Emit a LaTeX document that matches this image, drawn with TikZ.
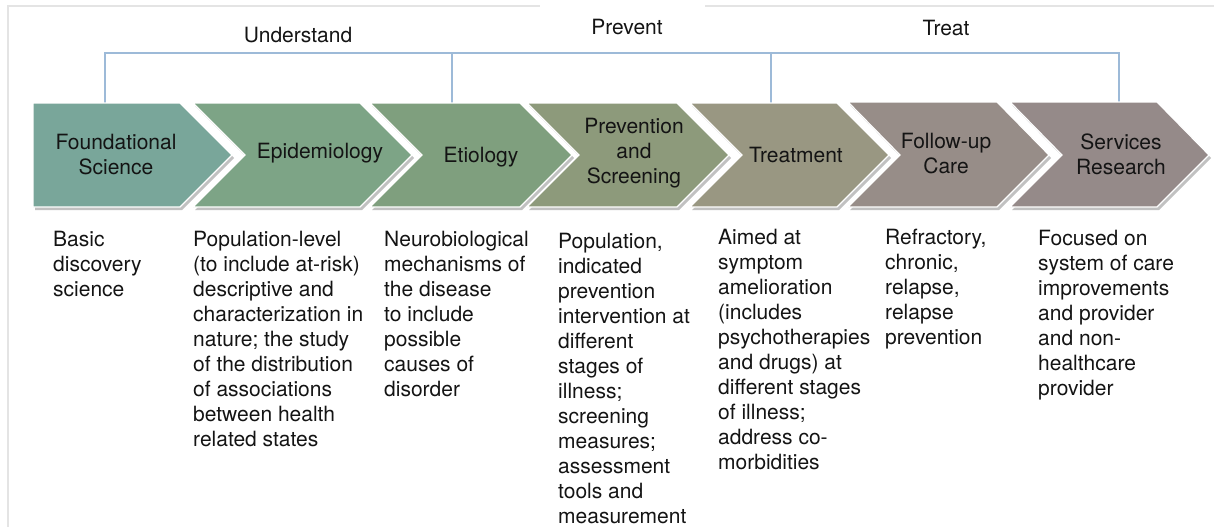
\documentclass[tikz,border=0pt]{standalone}
\usepackage{fontspec}
\setmainfont{TeX Gyre Heros}
\usetikzlibrary{shadows,calc}
\definecolor{cA}{HTML}{79A69A}
\definecolor{cB}{HTML}{7DA486}
\definecolor{cC}{HTML}{7F9F7E}
\definecolor{cD}{HTML}{8D9A7B}
\definecolor{cE}{HTML}{999782}
\definecolor{cF}{HTML}{978D88}
\definecolor{cG}{HTML}{958A89}
\definecolor{brcol}{HTML}{9DBAD8}
\definecolor{framecol}{HTML}{E4E4E4}
\tikzset{
  chevshape/.style={fill=#1, draw=white, line width=1.2pt,
    drop shadow={shadow xshift=2pt, shadow yshift=-3pt, opacity=0.35, fill=black!70}},
  lab/.style={align=center, inner sep=0pt, font=\fontsize{21}{25}\selectfont, text=black!92},
  desc/.style={align=left, anchor=north west, inner sep=0pt, font=\fontsize{21}{25}\selectfont, text=black!92},
  toplab/.style={inner sep=0pt, font=\fontsize{21}{25}\selectfont, text=black!92},
  bracket/.style={draw=brcol, line width=1.6pt},
  framel/.style={draw=framecol, line width=1.2pt}
}
\begin{document}
\begin{tikzpicture}[x=1pt,y=-1pt]
\useasboundingbox (0,0) rectangle (1214,527);
% faint frame
\draw[framel] (540,6) -- (8,6) -- (8,527);
\draw[framel] (705,6) -- (1214,6);
% bracket coordinates
\coordinate (t1) at (105,104);
\coordinate (t2) at (452,104);
\coordinate (t3) at (771,104);
\coordinate (t4) at (1119,104);
\coordinate (h1) at (105,53);
\coordinate (h4) at (1119,53);
\draw[bracket] (t1) -- (h1) -- (h4) -- (t4);
\draw[bracket] (t2) -- (t2|-h1);
\draw[bracket] (t3) -- (t3|-h1);
% top labels
\node[toplab] (lu) at (298,35) {Understand};
\node[toplab] (lp) at (627,27) {Prevent};
\node[toplab] (lt) at (946,28) {Treat};
% chevrons
\path[chevshape=cA] (33,103) -- (180,103) -- (232,155) -- (180,207) -- (33,207) -- cycle;
\path[chevshape=cB] (193,103) -- (360,103) -- (412,155) -- (360,207) -- (193,207) -- (245,155) -- cycle;
\path[chevshape=cC] (370,103) -- (520,103) -- (572,155) -- (520,207) -- (370,207) -- (422,155) -- cycle;
\path[chevshape=cD] (527,103) -- (677,103) -- (729,155) -- (677,207) -- (527,207) -- (579,155) -- cycle;
\path[chevshape=cE] (690,103) -- (837,103) -- (889,155) -- (837,207) -- (690,207) -- (742,155) -- cycle;
\path[chevshape=cF] (848,102) -- (997,102) -- (1049,155) -- (997,207) -- (848,207) -- (900,155) -- cycle;
\path[chevshape=cG] (1010,102) -- (1157,102) -- (1209,155) -- (1157,207) -- (1010,207) -- (1062,155) -- cycle;
% chevron labels
\node[lab] (n1) at (116,155) {Foundational\\Science};
\node[lab] (n2) at (320,153) {Epidemiology};
\node[lab] (n3) at (481,157) {Etiology};
\node[lab] (n4) at (634,153) {Prevention\\and\\Screening};
\node[lab] (n5) at (796,155) {Treatment};
\node[lab] (n6) at (946,154) {Follow-up\\Care};
\node[lab] (n7) at (1121,154) {Services\\Research};
% descriptions
\node[desc] (d1) at (53,231) {Basic\\discovery\\science};
\node[desc] (d2) at (193,231) {Population-level\\(to include at-risk)\\descriptive and\\characterization in\\nature; the study\\of the distribution\\of associations\\between health\\related states};
\node[desc] (d3) at (384,231) {Neurobiological\\mechanisms of\\the disease\\to include\\possible\\causes of\\disorder};
\node[desc] (d4) at (558,233) {Population,\\indicated\\prevention\\intervention at\\different\\stages of\\illness;\\screening\\measures;\\assessment\\tools and\\measurement};
\node[desc] (d5) at (718,229) {Aimed at\\symptom\\amelioration\\(includes\\psychotherapies\\and drugs) at\\different stages\\of illness;\\address co-\\morbidities};
\node[desc] (d6) at (885,229) {Refractory,\\chronic,\\relapse,\\relapse\\prevention};
\node[desc] (d7) at (1038,230) {Focused on\\system of care\\improvements\\and provider\\and non-\\healthcare\\provider};
\end{tikzpicture}
\end{document}
